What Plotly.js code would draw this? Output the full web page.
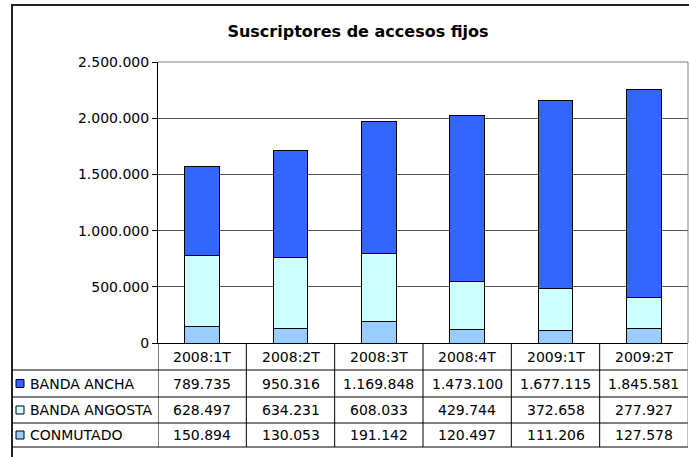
<!DOCTYPE html>
<html>
<head>
<meta charset="utf-8">
<script src="https://cdn.plot.ly/plotly-3.0.1.min.js"></script>
<style>
  html, body { margin: 0; padding: 0; background: #fff; }
  #chart { width: 689px; height: 457px; }
</style>
</head>
<body>
<div id="chart"></div>
<script>
// ---- Data ----
const categories = ['2008:1T', '2008:2T', '2008:3T', '2008:4T', '2009:1T', '2009:2T'];
const seriesNames = ['BANDA ANCHA', 'BANDA ANGOSTA', 'CONMUTADO'];
const bandaAncha = [789735, 950316, 1169848, 1473100, 1677115, 1845581];
const bandaAngosta = [628497, 634231, 608033, 429744, 372658, 277927];
const conmutado = [150894, 130053, 191142, 120497, 111206, 127578];
const yTickVals = [0, 500000, 1000000, 1500000, 2000000, 2500000];
const titleText = 'Suscriptores de accesos fijos';

// ---- Styling ----
const colors = { ancha: '#3366FF', angosta: '#CCFFFF', conmutado: '#99CCFF' };
const FONT = 'DejaVu Sans, Verdana, sans-serif';
const FS = 14;

// layout geometry (pixels)
const W = 689, H = 457;
const M = { l: 158, r: 1, t: 62, b: 114 };
const pw = W - M.l - M.r, ph = H - M.t - M.b;
const px2x = p => (p - M.l) / pw;           // pixel x -> paper x
const py2y = p => (H - M.b - p) / ph;       // pixel y -> paper y

function fmt(n) { return String(n).replace(/\B(?=(\d{3})+(?!\d))/g, '.'); }

const seriesData = [bandaAncha, bandaAngosta, conmutado];
const seriesColors = [colors.ancha, colors.angosta, colors.conmutado];

// stacked bar traces (bottom first)
const traces = [
  { name: seriesNames[2], y: conmutado, color: colors.conmutado },
  { name: seriesNames[1], y: bandaAngosta, color: colors.angosta },
  { name: seriesNames[0], y: bandaAncha, color: colors.ancha }
].map(s => ({
  type: 'bar', x: categories, y: s.y, name: s.name, width: 0.39,
  marker: { color: s.color, line: { color: '#000', width: 1 } },
  hoverinfo: 'skip'
}));

// table geometry (pixel rows)
const rowLines = [370, 397, 423, 447];          // bottom borders of header + 3 rows
const rowCenters = [356.5, 383.5, 410, 435];   // header, row1..3
const leftEdge = 12;

const shapes = [];
const annotations = [];

// outer chart frame
shapes.push({ type: 'rect', xref: 'paper', yref: 'paper',
  x0: px2x(leftEdge), x1: px2x(W + 30), y0: py2y(H + 30), y1: py2y(5),
  line: { color: '#222', width: 2 }, fillcolor: 'rgba(0,0,0,0)', layer: 'below' });

// plot area gray border (top, right)
shapes.push({ type: 'path', xref: 'paper', yref: 'paper',
  path: `M0,1 L1,1 L1,0`, line: { color: '#808080', width: 1 } });

// table horizontal lines
rowLines.forEach(py => shapes.push({ type: 'line', xref: 'paper', yref: 'paper',
  x0: px2x(leftEdge), x1: 1, y0: py2y(py), y1: py2y(py), line: { color: '#000', width: 1 } }));

// table vertical lines at category boundaries
for (let i = 0; i <= categories.length; i++) {
  shapes.push({ type: 'line', xref: 'x', yref: 'paper', x0: i - 0.5, x1: i - 0.5,
    y0: 0, y1: py2y(rowLines[rowLines.length - 1]), line: { color: i === categories.length ? '#808080' : '#000', width: 1 } });
}

// header labels
categories.forEach(c => annotations.push({ xref: 'x', yref: 'paper', x: c, y: py2y(rowCenters[0]),
  text: c, showarrow: false, xanchor: 'center', yanchor: 'middle', font: { family: FONT, size: FS, color: '#000' } }));

// rows
seriesNames.forEach((name, r) => {
  const yc = py2y(rowCenters[r + 1]);
  // legend key
  shapes.push({ type: 'rect', xref: 'paper', yref: 'paper',
    xsizemode: 'pixel', ysizemode: 'pixel', xanchor: px2x(leftEdge), yanchor: yc,
    x0: 4, x1: 12, y0: -4, y1: 4,
    fillcolor: seriesColors[r], line: { color: '#000', width: 1 } });
  annotations.push({ xref: 'paper', yref: 'paper', x: px2x(28), y: yc, text: name,
    showarrow: false, xanchor: 'left', yanchor: 'middle', font: { family: FONT, size: FS, color: '#000' } });
  seriesData[r].forEach((v, i) => annotations.push({ xref: 'x', yref: 'paper', x: categories[i], y: yc,
    text: fmt(v), showarrow: false, xanchor: 'center', yanchor: 'middle', font: { family: FONT, size: FS, color: '#000' } }));
});

const layout = {
  width: W, height: H,
  margin: M,
  paper_bgcolor: '#fff', plot_bgcolor: '#fff',
  separators: ',.',
  barmode: 'stack',
  bargap: 0.6,
  showlegend: false,
  title: { text: '<b>' + titleText + '</b>', x: 358 / W, xanchor: 'center', y: 1 - 31 / H, yanchor: 'middle',
    font: { family: FONT, size: 16, color: '#000' } },
  xaxis: { type: 'category', range: [-0.5, categories.length - 0.5], showticklabels: false, ticks: '',
    showline: true, linecolor: '#000', linewidth: 1, showgrid: false, zeroline: false, fixedrange: true },
  yaxis: { range: [0, 2500000], tickvals: yTickVals, tickformat: ',d', ticks: 'outside', ticklen: 5,
    tickcolor: '#000', showline: true, linecolor: '#000', linewidth: 1, showgrid: true, gridcolor: '#555',
    gridwidth: 1, zeroline: false, tickfont: { family: FONT, size: FS, color: '#000' }, fixedrange: true },
  shapes: shapes,
  annotations: annotations
};

Plotly.newPlot('chart', traces, layout, { displayModeBar: false, staticPlot: true });
</script>
</body>
</html>
